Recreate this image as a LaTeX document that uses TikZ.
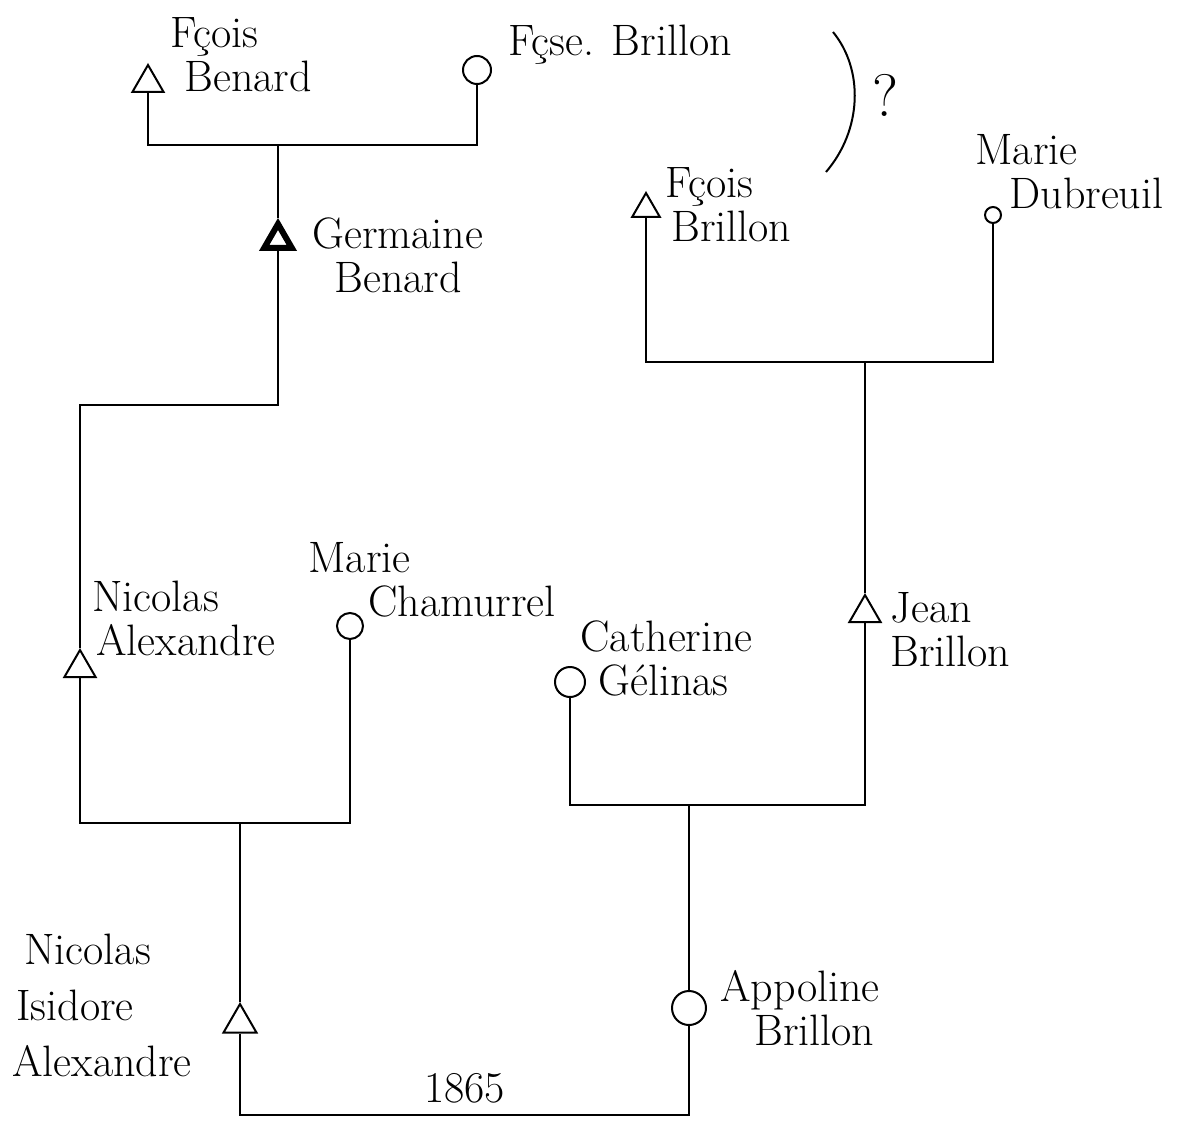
\documentclass[tikz,border=0pt]{standalone}
\usetikzlibrary{shapes.geometric}
\begin{document}
\begin{tikzpicture}[x=0.5pt,y=-0.5pt,
        male/.style={draw,regular polygon,regular polygon sides=3,minimum size=18pt,inner sep=0pt,line width=1pt},
        female/.style={draw,circle,minimum size=14pt,inner sep=0pt,line width=1pt},
        persontext/.style={font=\fontsize{22}{22}\selectfont,align=left,anchor=west,inner sep=0pt},
        link/.style={line width=1pt}]
        \useasboundingbox (0,0) rectangle (1186,1122);
        % first generation
        \node[male] (fbenard) at (148,83) {};
        \node[persontext] (fbenardt) at (170,55) {Fçois\\\hspace*{7pt}Benard};
        \node[female] (fsbrillon) at (477,70) {};
        \node[persontext] (fsbrillont) at (508,45) {Fçse. Brillon};
        \coordinate (q1) at (833,32);
        \coordinate (q2) at (826,172);
        \draw[link] (q1) .. controls (864,70) and (862,130) .. (q2);
        \node[persontext,font=\fontsize{30}{30}\selectfont] (qmark) at (872,95) {?};
        \coordinate (u1) at (278,145);
        \draw[link] (fbenard.south) |- (u1) -| (fsbrillon.south);
        % second generation
        \node[male,line width=3pt,minimum size=16pt] (germaine) at (278,240) {};
        \node[persontext] (germainet) at (312,255) {Germaine\\\hspace*{11pt}Benard};
        \draw[link] (u1) -- (germaine.north);
        \node[male,minimum size=16pt] (fobrillon) at (646,209) {};
        \node[persontext] (fobrillont) at (665,205) {Fçois\\\hspace*{3pt}Brillon};
        \node[female,minimum size=8pt] (mdubreuil) at (993,215) {};
        \node[persontext] (mdubreuilt) at (975,172) {Marie\\\hspace*{17pt}Dubreuil};
        \coordinate (u2) at (865,362);
        \draw[link] (fobrillon.south) |- (u2) -| (mdubreuil.south);
        % third generation
        \node[male] (nalex) at (80,668) {};
        \node[persontext] (nalext) at (92,618) {Nicolas\\\hspace*{2pt}Alexandre};
        \coordinate (g1) at (278,405);
        \draw[link] (germaine.south) -- (g1) -| (nalex.north);
        \node[female,minimum size=13pt] (mcham) at (350,626) {};
        \node[persontext] (mchamt) at (308,580) {Marie\\\hspace*{30pt}Chamurrel};
        \node[male] (jean) at (865,613) {};
        \node[persontext] (jeant) at (890,630) {Jean\\Brillon};
        \draw[link] (u2) -- (jean.north);
        \node[female,minimum size=15pt] (catherine) at (570,682) {};
        \node[persontext] (cathet) at (580,658) {Catherine\\\hspace*{9pt}Gélinas};
        \coordinate (u3) at (240,823);
        \draw[link] (nalex.south) |- (u3) -| (mcham.south);
        \coordinate (u4) at (689,805);
        \draw[link] (catherine.south) |- (u4) -| (jean.south);
        % fourth generation
        \node[male,minimum size=19pt] (nisidore) at (240,1023) {};
        \node[persontext,font=\fontsize{22}{28}\selectfont] (nisidoret) at (12,1005) {\hspace*{6pt}Nicolas\\\hspace*{2pt}Isidore\\Alexandre};
        \draw[link] (u3) -- (nisidore.north);
        \node[female,minimum size=17pt] (appoline) at (689,1008) {};
        \node[persontext] (appolinet) at (720,1008) {Appoline\\\hspace*{17pt}Brillon};
        \draw[link] (u4) -- (appoline.north);
        \coordinate (u5) at (689,1115);
        \draw[link] (nisidore.south) |- node[pos=0.75,above=2pt,font=\fontsize{22}{22}\selectfont] (year) {1865} (u5) -- (appoline.south);
\end{tikzpicture}
\end{document}
